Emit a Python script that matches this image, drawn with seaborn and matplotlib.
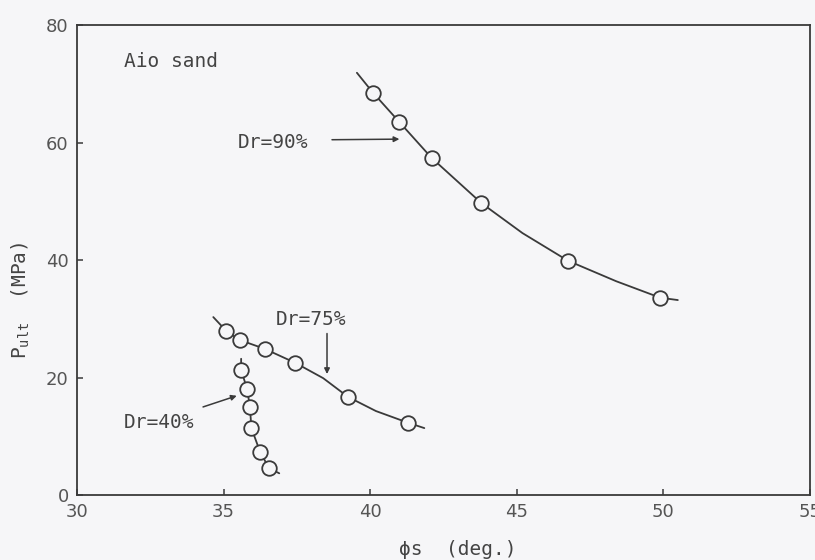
import matplotlib
matplotlib.use("Agg")
import matplotlib.pyplot as plt
import pandas as pd
import seaborn as sns

# measured points (phi_s in deg, P_ult in MPa)
phi_90 = [40.1, 41.0, 42.1, 43.8, 46.75, 49.9]
pult_90 = [68.5, 63.5, 57.4, 49.7, 39.9, 33.6]
phi_75 = [35.1, 35.55, 36.4, 37.45, 39.25, 41.3]
pult_75 = [27.9, 26.4, 24.9, 22.5, 16.7, 12.3]
phi_40 = [35.6, 35.8, 35.9, 35.95, 36.25, 36.55]
pult_40 = [21.3, 18.1, 15.0, 11.4, 7.3, 4.6]

# fitted curves as drawn on the sheet (ends run past the first/last point)
curve_90_x = [39.55, 40.1, 41.0, 42.1, 43.8, 45.2, 46.75, 48.4, 49.9, 50.5]
curve_90_y = [71.9, 68.5, 63.5, 57.4, 49.7, 44.6, 39.9, 36.4, 33.6, 33.2]
curve_75_x = [34.65, 35.1, 35.55, 36.4, 37.45, 38.4, 39.25, 40.2, 41.3, 41.85]
curve_75_y = [30.3, 27.9, 26.4, 24.9, 22.5, 19.9, 16.7, 14.3, 12.3, 11.4]
curve_40_x = [35.6, 35.6, 35.8, 35.9, 35.95, 36.25, 36.55, 36.9]
curve_40_y = [23.2, 21.3, 18.1, 15.0, 11.4, 7.3, 4.6, 3.7]

xticks = [30, 35, 40, 45, 50, 55]
yticks = [0, 20, 40, 60, 80]

bg = "#f6f6f8"
ink = "#3a3a3a"
mono = ["DejaVu Sans Mono"]

sns.set_style("ticks")
plt.rcParams["font.family"] = ["DejaVu Sans"]

fig = plt.figure(figsize=(8.15, 5.6), dpi=100, facecolor=bg)
ax = fig.add_axes([0.0945, 0.116, 0.899, 0.839], facecolor=bg)

curves = [(curve_90_x, curve_90_y), (curve_75_x, curve_75_y), (curve_40_x, curve_40_y)]
for cx, cy in curves:
    sns.lineplot(x=cx, y=cy, sort=False, estimator=None, color=ink, lw=1.3, ax=ax)

pts = pd.DataFrame({
    "phi": phi_90 + phi_75 + phi_40,
    "pult": pult_90 + pult_75 + pult_40,
})
sns.scatterplot(data=pts, x="phi", y="pult", color=bg, edgecolor=ink,
                linewidth=1.3, s=110, zorder=3, ax=ax)

ax.set_xlim(30, 55)
ax.set_ylim(0, 80)
ax.set_xticks(xticks)
ax.set_yticks(yticks)
ax.tick_params(direction="in", length=4, width=1.1, color=ink,
               labelsize=13, labelcolor="#555555", pad=6)
for s in ax.spines.values():
    s.set_color(ink)
    s.set_linewidth(1.3)

ax.set_xlabel("ϕs  (deg.)", family=mono, fontsize=14, color="#444444")
ax.xaxis.set_label_coords(0.52, -0.095)
ax.set_ylabel(r"P$_\mathregular{ult}$  (MPa)", family=mono, fontsize=14, color="#444444")
ax.yaxis.set_label_coords(-0.062, 0.415)

ax.text(31.6, 73.8, "Aio sand", family=mono, fontsize=14, color="#444444", va="center")

arrow = dict(arrowstyle="-|>", color=ink, lw=1.1, mutation_scale=8, shrinkA=0, shrinkB=0)
ax.text(35.5, 60.0, "Dr=90%", family=mono, fontsize=14, color="#444444", va="center")
ax.annotate("", xy=(41.0, 60.6), xytext=(38.7, 60.5), arrowprops=arrow)
ax.text(38.0, 29.9, "Dr=75%", family=mono, fontsize=14, color="#444444", va="center", ha="center")
ax.annotate("", xy=(38.53, 20.6), xytext=(38.53, 27.5), arrowprops=arrow)
ax.text(31.6, 12.4, "Dr=40%", family=mono, fontsize=14, color="#444444", va="center")
ax.annotate("", xy=(35.45, 16.9), xytext=(34.3, 15.0), arrowprops=arrow)

fig.savefig("out.png", dpi=100, facecolor=bg)
